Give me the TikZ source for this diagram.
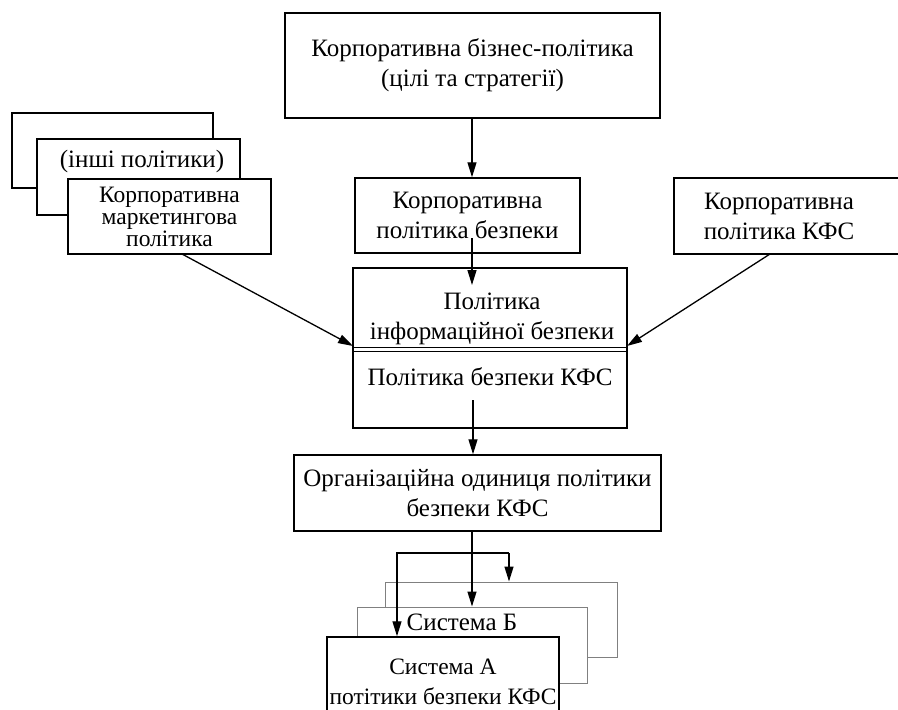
\documentclass[tikz,border=0pt]{standalone}
\usepackage{fontspec}
\setmainfont{Liberation Serif}
\usetikzlibrary{arrows.meta}

\begin{document}
\begin{tikzpicture}[x=1pt, y=-1pt, >={Triangle[length=15pt,width=9pt]},
    box/.style={draw, line width=1.5pt, fill=white, inner sep=0pt, align=center, font=\fontsize{25}{30}\selectfont},
    ghost/.style={draw=gray, line width=1pt, fill=white, inner sep=0pt},
    txt/.style={inner sep=0pt, align=center, font=\fontsize{25}{30}\selectfont},
    arr/.style={->, line width=1.3pt}]
    \useasboundingbox (0,0) rectangle (898,710);
    % top
    \node[box, minimum width=375, minimum height=105] (corp) at (472.5,65.5) {Корпоративна бізнес-політика\\(цілі та стратегії)};
    \node[box, minimum width=225, minimum height=75] (kpb) at (467.5,215.5) {Корпоративна\\політика безпеки};
    \node[box, minimum width=260, minimum height=76] (kfs) at (804,216) {};
        \node[txt] (kfstext) at (779,216) {Корпоративна\\політика КФС};
    % left stack
    \node[box, minimum width=201, minimum height=75] (oth1) at (112.5,150.5) {};
    \node[box, minimum width=203, minimum height=76] (oth2) at (138.5,177) {};
        \node[txt] (oth2text) at (142,161) {(інші політики)};
    \node[box, minimum width=203, minimum height=75, font=\fontsize{23.5}{22}\selectfont] (mark) at (169.5,216.5) {Корпоративна\\маркетингова\\політика};
    % middle
    \node[box, minimum width=274, minimum height=160] (pol) at (490,348) {};
        \node[txt] (infsec) at (492,319) {Політика\\інформаційної безпеки};
        \node[txt] (kfssec) at (490,377) {Політика безпеки КФС};
    \draw[line width=1pt] (pol.west |- 0,347) -- (pol.east |- 0,347);
    \draw[line width=1pt] (pol.west |- 0,351) -- (pol.east |- 0,351);
    \node[box, minimum width=367, minimum height=76] (org) at (477.5,493) {Організаційна одиниця політики\\безпеки КФС};
    % systems
    \node[ghost, minimum width=232, minimum height=75] (sysc) at (501,619.5) {};
    \node[ghost, minimum width=230, minimum height=76] (sysb) at (472,645) {};
        \node[txt] (sysbtext) at (462,622) {Система Б};
    \node[box, minimum width=232, minimum height=90, font=\fontsize{23.5}{30}\selectfont] (sysa) at (443,682) {Система А\\потітики безпеки КФС};

    \coordinate (kpbin) at (472,238);
    \coordinate (polin) at (472,285);
    \coordinate (markout) at (182,254);
    \coordinate (polL) at (353,346);
    \coordinate (kfsout) at (770,254);
    \coordinate (polR) at (627,346);
    \coordinate (polout) at (473,400);
    \coordinate (orgout) at (472,531);
    \coordinate (fork) at (397,553);
    \coordinate (forkR) at (509,553);

    \draw[arr] (corp.south -| kpbin) -- (kpb.north -| kpbin);
    \draw[arr] (kpbin) -- (polin);
    \draw[arr] (markout) -- (polL);
    \draw[arr] (kfsout) -- (polR);
    \draw[arr] (polout) -- (polout |- org.north);
    \draw[arr] (orgout) -- (orgout |- sysb.north);
    \draw[arr] (forkR) -- (forkR |- sysc.north);
    \draw[arr] (forkR) -- (fork) -- (fork |- sysa.north); % one line feeds both side systems
\end{tikzpicture}
\end{document}
